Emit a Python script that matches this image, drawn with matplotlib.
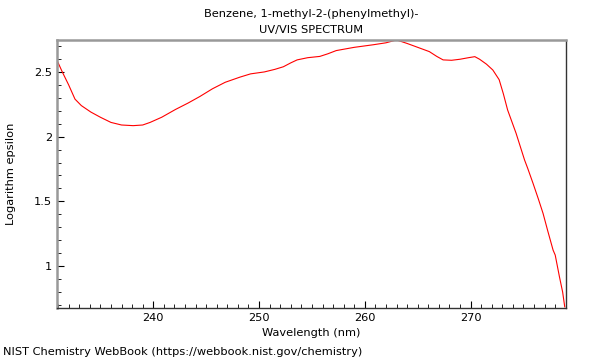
import matplotlib
matplotlib.use("Agg")
import matplotlib.pyplot as plt
from matplotlib.ticker import MultipleLocator

# Spectrum values
wavelength = [230.9, 231.4, 232.0, 232.6, 233.2, 234.1, 235.0, 236.0, 237.0, 238.1,
              239.0, 239.7, 240.8, 242.1, 243.3, 244.4, 245.6, 246.8, 248.2, 249.2,
              250.5, 251.5, 252.3, 253.0, 253.6, 254.6, 255.75, 256.5, 257.3, 259.0,
              260.8, 262.0, 263.0, 264.0, 265.0, 266.1, 266.8, 267.4, 268.2, 269.0,
              269.8, 270.4, 270.85, 271.5, 272.1, 272.7, 273.1, 273.5, 274.3, 275.1,
              275.4, 275.9, 276.4, 276.85, 277.3, 277.8, 278.0, 278.4, 278.7, 278.9]
log_eps = [2.59, 2.50, 2.40, 2.29, 2.24, 2.19, 2.15, 2.11, 2.09, 2.085,
           2.09, 2.11, 2.15, 2.21, 2.26, 2.31, 2.37, 2.42, 2.46, 2.485,
           2.50, 2.52, 2.54, 2.57, 2.593, 2.61, 2.62, 2.64, 2.665, 2.69,
           2.71, 2.725, 2.747, 2.72, 2.69, 2.657, 2.62, 2.593, 2.59, 2.598,
           2.61, 2.618, 2.598, 2.56, 2.515, 2.44, 2.33, 2.206, 2.026, 1.82,
           1.755, 1.64, 1.52, 1.407, 1.27, 1.123, 1.085, 0.917, 0.80, 0.685]

fs = 8.2

fig = plt.figure(figsize=(6, 3.6), dpi=100)
ax = fig.add_axes([0.095, 0.144, 0.848, 0.745])

ax.plot(wavelength, log_eps, color="red", linewidth=0.8)

ax.set_xlim(230.9, 279.0)
ax.set_ylim(0.675, 2.747)

ax.xaxis.set_major_locator(MultipleLocator(10))
ax.xaxis.set_minor_locator(MultipleLocator(1))
ax.yaxis.set_major_locator(MultipleLocator(0.5))
ax.yaxis.set_minor_locator(MultipleLocator(0.1))
ax.yaxis.set_major_formatter(plt.FuncFormatter(lambda v, p: f"{v:g}"))

ax.tick_params(which="both", direction="in", top=False, right=False, labelsize=fs)
ax.tick_params(which="major", length=5, width=0.8)
ax.tick_params(which="minor", length=3, width=0.6)

for side in ["top", "left"]:
    ax.spines[side].set_color("#999999")
    ax.spines[side].set_linewidth(1.8)
for side in ["bottom", "right"]:
    ax.spines[side].set_color("#333333")
    ax.spines[side].set_linewidth(1.0)

ax.set_xlabel("Wavelength (nm)", fontsize=fs)
ax.xaxis.set_label_coords(0.5, -0.075)
ax.set_ylabel("Logarithm epsilon", fontsize=fs)
ax.yaxis.set_label_coords(-0.080, 0.5)

fig.text(0.519, 0.961, "Benzene, 1-methyl-2-(phenylmethyl)-", fontsize=fs, ha="center", va="center")
fig.text(0.519, 0.917, "UV/VIS SPECTRUM", fontsize=fs, ha="center", va="center")

fig.text(0.005, 0.022, "NIST Chemistry WebBook (https://webbook.nist.gov/chemistry)", fontsize=fs, va="center")

fig.savefig("out.png", dpi=100)
